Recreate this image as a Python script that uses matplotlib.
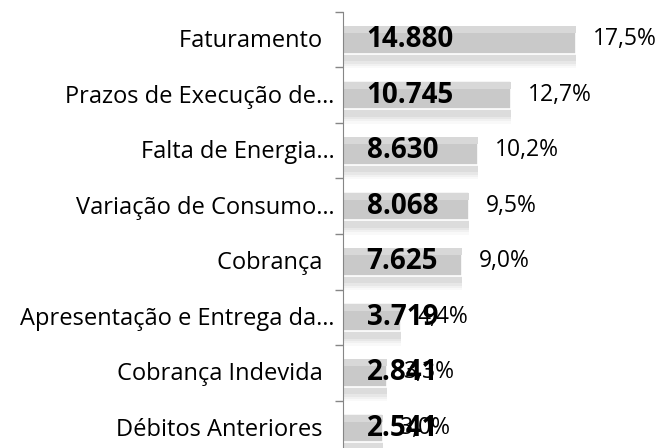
import matplotlib.pyplot as plt
import matplotlib.transforms as mtransforms
import numpy as np

categorias = ['Faturamento  ', 'Prazos de Execução de…', 'Falta de Energia…',
              'Variação de Consumo…', 'Cobrança  ', 'Apresentação e Entrega da…',
              'Cobrança Indevida  ', 'Débitos Anteriores  ']
valores = [14880, 10745, 8630, 8068, 7625, 3719, 2841, 2541]
percentuais = ['17,5%', '12,7%', '10,2%', '9,5%', '9,0%', '4,4%', '3,3%', '3,0%']

plt.rcParams['font.family'] = ['Open Sans', 'DejaVu Sans']

fig = plt.figure(figsize=(6.62, 4.48), dpi=100)
ax = fig.add_axes([343 / 662, (448 - 456) / 448, 319 / 662, 444 / 448])

y = np.arange(len(valores))
# sombra
for k, a in [(0.26, 0.05), (0.22, 0.08), (0.18, 0.11), (0.14, 0.14)]:
    ax.barh(y + k, valores, height=0.5, color='#9a9a9a', alpha=a, linewidth=0)
ax.barh(y, valores, height=0.5, color='#c9c9c9', edgecolor='white', linewidth=1.2)
ax.barh(y - 0.18, valores, height=0.12, color='#d8d8d8', linewidth=0)

for i, (v, p) in enumerate(zip(valores, percentuais)):
    ax.annotate(f'{v:,}'.replace(',', '.'), (0, i), xytext=(17, 0), textcoords='offset points',
                va='center', ha='left', fontsize=20, fontweight='bold', color='black')
    ax.annotate(p, (v, i), xytext=(12, 0.5), textcoords='offset points',
                va='center', ha='left', fontsize=16.5, color='black')

ax.set_xlim(0, 20370)
ax.set_ylim(len(valores) - 0.5, -0.5)
ax.set_yticks(np.arange(len(valores) + 1) - 0.5)
ax.set_yticklabels([])
ax.set_yticks(y, minor=True)
ax.set_yticklabels(categorias, minor=True, fontsize=17)
ax.tick_params(axis='y', which='major', length=6, color='#868686', width=1)
ax.tick_params(axis='y', which='minor', length=0, pad=6)
desloc = mtransforms.ScaledTranslation(0, 1.5 / 100, fig.dpi_scale_trans)
for lbl in ax.get_yticklabels(minor=True):
    lbl.set_transform(lbl.get_transform() + desloc)
ax.set_xticks([])
for s in ['top', 'right', 'bottom']:
    ax.spines[s].set_visible(False)
ax.spines['left'].set_color('#868686')

fig.savefig('out.png', dpi=100)
